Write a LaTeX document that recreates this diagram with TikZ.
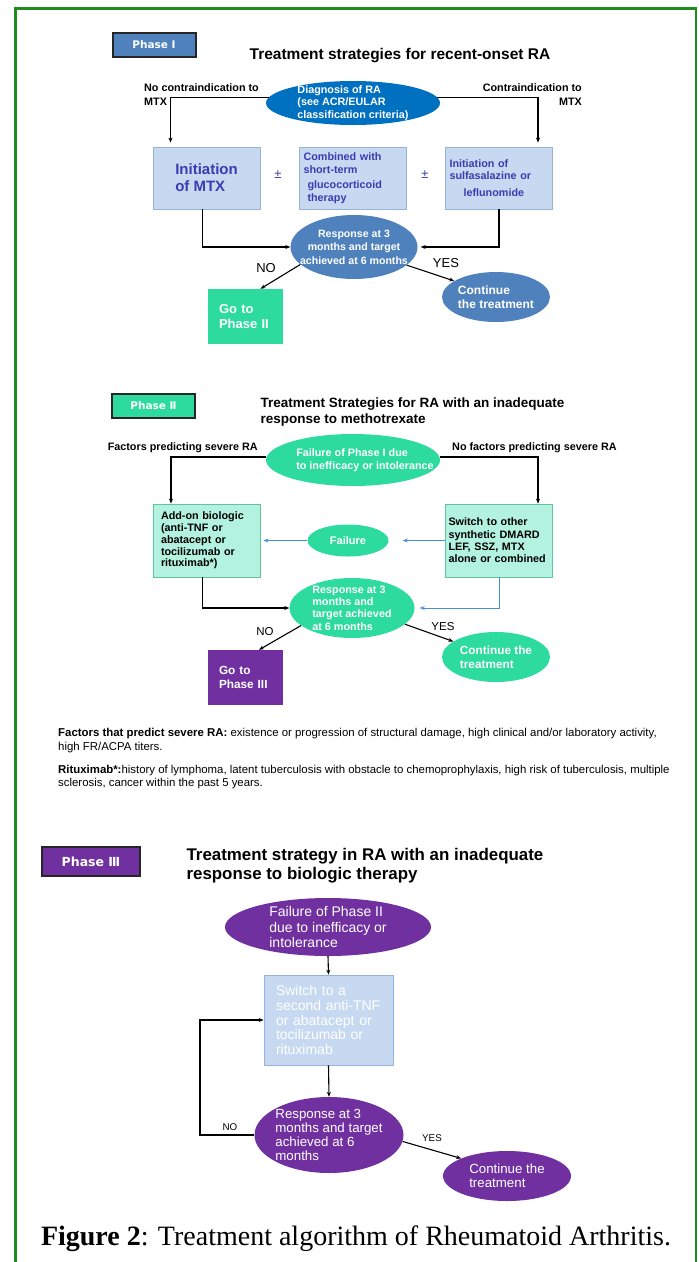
\documentclass[tikz,border=0pt]{standalone}
\usepackage{fontspec}
\setmainfont{Liberation Sans}
\newfontfamily\phasefont{DejaVu Sans}
\newfontfamily\capfont{Liberation Serif}
\usetikzlibrary{shapes.geometric,arrows.meta}

\definecolor{framegreen}{HTML}{1E8C1E}
\definecolor{pblue}{HTML}{4F81BD}
\definecolor{dblue}{HTML}{0070C0}
\definecolor{lblue}{HTML}{C6D9F1}
\definecolor{lbline}{HTML}{95B3D7}
\definecolor{btext}{HTML}{3C3CB0}
\definecolor{phgreen}{HTML}{2CDB9D}
\definecolor{lteal}{HTML}{B3F2DF}
\definecolor{ltline}{HTML}{62C49F}
\definecolor{purp}{HTML}{7030A0}
\definecolor{arrblue}{HTML}{4A8FD6}

\newcommand{\fsz}[2]{\fontsize{#1}{#2}\selectfont}

\begin{document}
\begin{tikzpicture}[x=1pt,y=-1pt,
    phaselbl/.style={draw=black!85,line width=2pt,text=white,inner sep=0pt,minimum width=83,minimum height=24,font=\phasefont\bfseries\fsz{10.5}{12}},
    ell/.style={ellipse,inner xsep=-12pt,inner ysep=-6pt,text=white,align=left,font=\bfseries\fsz{10.8}{12.5}},
    bbox/.style={rectangle,fill=lblue,draw=lbline,line width=0.8pt,minimum width=107,minimum height=62,text=btext,inner sep=4pt,align=left,font=\bfseries\fsz{10.8}{12.5}},
    tbox/.style={rectangle,fill=lteal,draw=ltline,line width=0.8pt,minimum width=107,minimum height=73,inner sep=3pt,align=left,font=\bfseries\fsz{10.8}{11.8}},
    pbox/.style={rectangle,fill=lblue,draw=lbline,line width=0.8pt,minimum width=129,minimum height=90,inner sep=0pt,text width=105,text=white,align=left,font=\fsz{14}{14.7}},
    gobox/.style={rectangle,minimum width=75,minimum height=55,inner sep=0pt,text width=53,align=left,text=white,font=\bfseries\fsz{13}{15}},
    side/.style={inner sep=0pt,font=\bfseries\fsz{10.8}{14.5}},
    lbl/.style={inner sep=0pt,font=\fsz{13}{15}},
    arr/.style={-{Stealth[length=5pt,width=4pt]},line width=1.1pt},
    barr/.style={arr,draw=arrblue,line width=0.9pt}]

  \useasboundingbox (0,0) rectangle (699,1262);
  \draw[framegreen,line width=2.5pt] (15.3,1262) -- (15.3,8.3) -- (696,8.3) -- (696,1262);

  % Phase I
  \node[phaselbl,fill=pblue] (ph1) at (154,44.5) {Phase Ⅰ};
  \node[font=\bfseries\fsz{15.5}{18}] (t1) at (400,56) {Treatment strategies for recent-onset RA};
  \node[ell,fill=dblue,minimum width=174,minimum height=44] (diag) at (353,103) {Diagnosis of RA\\(see ACR/EULAR\\classification criteria)};
  \node[side,anchor=north west,align=left] (noci) at (144,83) {No contraindication to\\MTX};
  \node[side,anchor=north east,align=right] (ci) at (582,83) {Contraindication to\\MTX};
  \node[bbox,font=\bfseries\fsz{15}{17}] (mtx) at (206.5,178) {Initiation\\of MTX};
  \node[bbox,text width=99] (comb) at (353,178) {Combined with\\short-term\\[3pt]\hspace*{4pt}glucocorticoid\\\hspace*{4pt}therapy};
  \node[bbox,text width=99] (sulfa) at (499,178) {Initiation of\\sulfasalazine or\\[4pt]\hspace*{14pt}leflunomide};
  \node[text=btext,font=\fsz{13}{15}] (pm1) at (278,175) {±};
  \node[text=btext,font=\fsz{13}{15}] (pm2) at (425,175) {±};
  \node[ell,fill=pblue,minimum width=127,minimum height=64,align=center,font=\bfseries\fsz{10.6}{13.5}] (resp1) at (354,247) {Response at 3\\months and target\\achieved at 6 months};
  \node[ell,fill=pblue,minimum width=108,minimum height=50,font=\bfseries\fsz{12}{14}] (cont1) at (496,297) {Continue\\the treatment};
  \node[gobox,fill=phgreen] (go2) at (245.5,316.5) {Go to\\Phase II};
  \node[lbl] (no1) at (266,268) {NO};
  \node[lbl] (yes1) at (446,263) {YES};

  \draw[arr,shorten >=4pt] (diag.176) -| ([xshift=-36pt]mtx.north);
  \draw[arr,shorten >=4pt] (diag.4) -| ([xshift=39pt]sulfa.north);
  \draw[arr] ([xshift=-4pt]mtx.south) |- (resp1.west);
  \draw[arr,shorten >=3pt] (sulfa.south) |- (resp1.east);
  \draw[arr] (resp1.198) -- ([xshift=15pt]go2.north);
  \draw[arr] (resp1.341) -- (cont1.159);

  % Phase II
  \node[phaselbl,fill=phgreen] (ph2) at (153.5,405.5) {Phase Ⅱ};
  \node[anchor=west,align=left,font=\bfseries\fsz{13.5}{16}] (t2) at (257,412) {Treatment Strategies for RA with an inadequate\\response to methotrexate};
  \node[side,anchor=east] (fac) at (258,448) {Factors predicting severe RA};
  \node[side,anchor=west] (nofac) at (452,448) {No factors predicting severe RA};
  \node[ell,fill=phgreen,inner xsep=-22pt,minimum width=174,minimum height=52] (fail1) at (353,460) {\hspace*{24pt}Failure of Phase I due\\\hspace*{24pt}to inefficacy or intolerance};
  \node[tbox,text width=99] (addon) at (206.5,540.5) {\hspace*{4pt}Add-on biologic\\\hspace*{4pt}(anti-TNF or\\\hspace*{4pt}abatacept or\\\hspace*{4pt}tocilizumab or\\\hspace*{4pt}rituximab*)};
  \node[tbox,text width=101,font=\bfseries\fsz{10.8}{12.3}] (switch) at (499,540.5) {Switch to other\\synthetic DMARD\\LEF, SSZ, MTX\\alone or combined};
  \node[ell,fill=phgreen,minimum width=81,minimum height=32,font=\bfseries\fsz{11}{13}] (fail2) at (348,540.5) {Failure};
  \node[ell,fill=phgreen,minimum width=125,minimum height=60,font=\bfseries\fsz{10.8}{12.3}] (resp2) at (352,608) {Response at 3\\months and\\target achieved\\at 6 months};
  \node[ell,fill=phgreen,minimum width=108,minimum height=50,font=\bfseries\fsz{11.8}{14}] (cont2) at (496,657) {Continue the\\treatment};
  \node[gobox,fill=purp,font=\bfseries\fsz{11.8}{13.5}] (go3) at (245.5,677.5) {Go to\\Phase III};
  \node[lbl,font=\fsz{11.5}{13}] (no2) at (265,632) {NO};
  \node[lbl,font=\fsz{11.5}{13}] (yes2) at (443,627) {YES};

  \draw[arr] (fail1.178) -| ([xshift=-35.5pt]addon.north);
  \draw[arr] (fail1.2) -| ([xshift=39pt]switch.north);
  \draw[barr,shorten >=14pt] (switch.west) -- (fail2.east);
  \draw[barr,shorten >=3pt] (fail2.west) -- (addon.east);
  \draw[arr] ([xshift=-4pt]addon.south) |- (resp2.west);
  \draw[barr,shorten >=5pt] (switch.south) |- (resp2.east);
  \draw[arr] (resp2.199) -- ([xshift=13.5pt]go3.north);
  \draw[arr] (resp2.343) -- (cont2.160);

  \node[anchor=north west,align=left,inner sep=0pt,font=\fsz{11.4}{14}] (note1) at (58,728) {\textbf{Factors that predict severe RA:} existence or progression of structural damage, high clinical and/or laboratory activity,\\high FR/ACPA titers.};
  \node[anchor=north west,align=left,inner sep=0pt,font=\fsz{11.4}{12.8}] (note2) at (58,765) {\textbf{Rituximab*:}history of lymphoma, latent tuberculosis with obstacle to chemoprophylaxis, high risk of tuberculosis, multiple\\sclerosis, cancer within the past 5 years.};

  % Phase III
  \node[phaselbl,fill=purp,minimum width=98,minimum height=29,font=\phasefont\bfseries\fsz{12.5}{14}] (ph3) at (91,861.5) {Phase Ⅲ};
  \node[anchor=west,align=left,font=\bfseries\fsz{16.9}{19}] (t3) at (183,865.5) {Treatment strategy in RA with an inadequate\\response to biologic therapy};
  \node[ell,fill=purp,minimum width=206,minimum height=58,font=\fsz{14}{15.5}] (fail3) at (328,927) {Failure of Phase II\\due to inefficacy or\\intolerance};
  \node[pbox] (switch3) at (328.5,1020) {Switch to a\\second anti-TNF\\or abatacept or\\tocilizumab or\\rituximab};
  \node[ell,fill=purp,minimum width=149,minimum height=76,font=\fsz{13.3}{14}] (resp3) at (329,1135) {Response at 3\\months and target\\achieved at 6\\months};
  \node[ell,fill=purp,minimum width=128,minimum height=50,font=\fsz{13.3}{14}] (cont3) at (507,1176) {Continue the\\treatment};
  \coordinate (loop3) at (200,1020);
  \node[lbl,font=\fsz{9.8}{11}] (no3) at (230,1127) {NO};
  \node[lbl,font=\fsz{9.8}{11}] (yes3) at (432,1138) {YES};

  \draw[arr] (fail3.south) -- (switch3.north);
  \draw[arr] (switch3.south) -- (resp3.north);
  \draw[arr] (resp3.west) -| (loop3) -- (switch3.west);
  \draw[arr] (resp3.355) -- (cont3.159);

  \node[font=\capfont\fsz{28}{32}] (cap) at (356,1239) {\textbf{Figure 2}: Treatment algorithm of Rheumatoid Arthritis.};
\end{tikzpicture}
\end{document}
